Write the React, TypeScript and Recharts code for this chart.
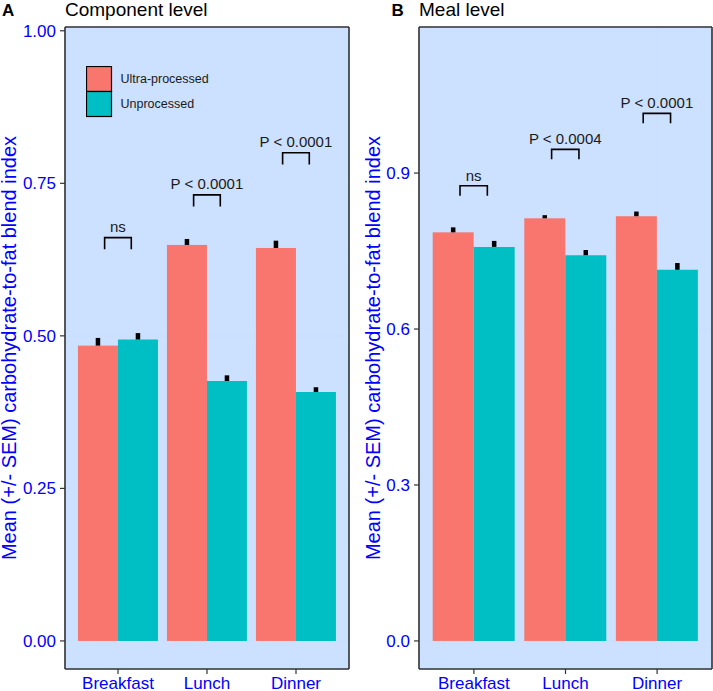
import React from 'react';
import { BarChart, Bar, XAxis, YAxis, CartesianGrid, ErrorBar, Legend } from 'recharts';

// ---------- data ----------
const meals = ['Breakfast', 'Lunch', 'Dinner'];

const componentUltra = [0.484, 0.649, 0.644];
const componentUnproc = [0.494, 0.426, 0.408];
const componentUltraSem = [0.0126, 0.0098, 0.012];
const componentUnprocSem = [0.0105, 0.0093, 0.0078];
const componentBracketTop = [0.661, 0.731, 0.8];
const componentP = ['ns', 'P < 0.0001', 'P < 0.0001'];
const componentTicks = [0, 0.25, 0.5, 0.75, 1.0];

const mealUltra = [0.786, 0.813, 0.817];
const mealUnproc = [0.758, 0.742, 0.714];
const mealUltraSem = [0.0096, 0.006, 0.009];
const mealUnprocSem = [0.0115, 0.01, 0.013];
const mealBracketTop = [0.8756, 0.9455, 1.0148];
const mealP = ['ns', 'P < 0.0004', 'P < 0.0001'];
const mealTicks = [0, 0.3, 0.6, 0.9];

const seriesNames = ['Ultra-processed', 'Unprocessed'];
const yTitle = 'Mean (+/- SEM) carbohydrate-to-fat blend index';
const bracketLeg = 0.019;
const bracketTextGap = 0.01;

// ---------- style ----------
const FONT = '"Liberation Sans", Arial, Helvetica, sans-serif';
const ULTRA = '#F8766D';
const UNPROC = '#00BFC4';
const PANEL_BG = '#CCE0FF';
const BLUE = '#0000FF';
const BORDER = '#333333';

function buildRows(ultra: number[], unproc: number[], ultraSem: number[], unprocSem: number[], bracketTop: number[], pLabels: string[]) {
  return meals.map((meal, i) => ({
    meal,
    ultra: ultra[i],
    unproc: unproc[i],
    ultraErr: [0, ultraSem[i]],
    unprocErr: [0, unprocSem[i]],
    bracketTop: bracketTop[i],
    pLabel: pLabels[i],
  }));
}

const componentRows = buildRows(componentUltra, componentUnproc, componentUltraSem, componentUnprocSem, componentBracketTop, componentP);
const mealRows = buildRows(mealUltra, mealUnproc, mealUltraSem, mealUnprocSem, mealBracketTop, mealP);

// Ultra bar shape: draws the bar and the significance bracket above the meal group
const UltraShape = (props: any) => {
  const { x, y, width, height, payload, fill } = props;
  const val = payload.ultra;
  const base = y + height;
  const ppu = height / val;
  const cx = x + width;
  const half = width / 3;
  const yTop = base - payload.bracketTop * ppu;
  const yLeg = base - (payload.bracketTop - bracketLeg) * ppu;
  const yText = base - (payload.bracketTop + bracketTextGap) * ppu;
  return (
    <g>
      <rect x={x} y={y} width={width} height={height} fill={fill} />
      <path
        d={`M${cx - half},${yLeg}V${yTop}H${cx + half}V${yLeg}`}
        fill="none"
        stroke="#000"
        strokeWidth={1.6}
      />
      <text x={cx} y={yText} textAnchor="middle" fontSize={15} fill="#1a1a1a" fontFamily={FONT}>
        {payload.pLabel}
      </text>
    </g>
  );
};

const renderLegend = (props: any) => {
  const payload = props.payload || [];
  return (
    <svg width={140} height={54} style={{ display: 'block' }}>
      {payload.map((entry: any, i: number) => (
        <g key={i}>
          <rect x={0.5} y={0.5 + i * 25} width={25} height={25} fill={entry.color} stroke="#000" strokeWidth={1.2} />
          <text x={34.5} y={13 + i * 25} dominantBaseline="central" fontSize={12.5} fill="#1a1a1a" fontFamily={FONT}>
            {entry.value}
          </text>
        </g>
      ))}
    </svg>
  );
};

const yTitleRenderer = (baselineOffset: number) => (props: any) => {
  const vb = props.viewBox || {};
  const tx = vb.x + baselineOffset;
  const ty = vb.y + vb.height / 2;
  return (
    <text
      x={tx}
      y={ty}
      transform={`rotate(-90, ${tx}, ${ty})`}
      textAnchor="middle"
      fontSize={20}
      fill={BLUE}
      fontFamily={FONT}
    >
      {yTitle}
    </text>
  );
};

type PanelProps = {
  rows: any[];
  width: number;
  yAxisWidth: number;
  marginRight: number;
  domain: [number, number];
  ticks: number[];
  decimals: number;
  pad: number;
  titleOffset: number;
  showLegend: boolean;
};

function Panel({ rows, width, yAxisWidth, marginRight, domain, ticks, decimals, pad, titleOffset, showLegend }: PanelProps) {
  const axisLine = { stroke: BORDER, strokeWidth: 1.6 };
  return (
    <BarChart
      width={width}
      height={691}
      data={rows}
      margin={{ top: 26, right: marginRight, bottom: 0, left: 0 }}
      barCategoryGap="5%"
      barGap={0}
      style={{ overflow: 'visible' }}
    >
      <CartesianGrid fill={PANEL_BG} stroke={PANEL_BG} />
      <XAxis
        dataKey="meal"
        height={22}
        padding={{ left: pad, right: pad }}
        axisLine={axisLine}
        tickLine={{ stroke: BORDER, strokeWidth: 1.2 }}
        tickSize={5}
        tickMargin={3}
        tick={{ fill: BLUE, fontSize: 17, fontFamily: FONT }}
        interval={0}
      />
      <XAxis
        xAxisId="top"
        dataKey="meal"
        orientation="top"
        height={1}
        axisLine={axisLine}
        tick={false}
        tickLine={false}
      />
      <YAxis
        width={yAxisWidth}
        domain={domain}
        ticks={ticks}
        allowDataOverflow
        type="number"
        axisLine={axisLine}
        tickLine={{ stroke: BORDER, strokeWidth: 1.2 }}
        tickSize={5}
        tickMargin={4}
        tick={{ fill: BLUE, fontSize: 17, fontFamily: FONT }}
        tickFormatter={(v: number) => v.toFixed(decimals)}
        interval={0}
        label={yTitleRenderer(titleOffset)}
      />
      <YAxis
        yAxisId="right"
        orientation="right"
        width={1}
        type="number"
        domain={[0, 1]}
        axisLine={axisLine}
        tick={false}
        tickLine={false}
      />
      {showLegend && (
        <Legend
          layout="vertical"
          align="center"
          verticalAlign="middle"
          content={renderLegend}
          wrapperStyle={{ left: 85.5, top: 65.5, width: 140, height: 54 }}
        />
      )}
      <Bar dataKey="ultra" name={seriesNames[0]} fill={ULTRA} isAnimationActive={false} shape={UltraShape}>
        <ErrorBar dataKey="ultraErr" width={0} strokeWidth={4.5} stroke="#000" direction="y" />
      </Bar>
      <Bar dataKey="unproc" name={seriesNames[1]} fill={UNPROC} isAnimationActive={false}>
        <ErrorBar dataKey="unprocErr" width={0} strokeWidth={4.5} stroke="#000" direction="y" />
      </Bar>
    </BarChart>
  );
}

export default function App() {
  return (
    <div style={{ position: 'absolute', left: 0, top: 0, width: 713, height: 691, background: '#fff', fontFamily: FONT, overflow: 'hidden' }}>
      <div style={{ position: 'absolute', left: 0, top: 0 }}>
        <Panel
          rows={componentRows}
          width={356}
          yAxisWidth={65}
          marginRight={6}
          domain={[-0.046, 1.0062]}
          ticks={componentTicks}
          decimals={2}
          pad={8.5}
          titleOffset={15.7}
          showLegend={true}
        />
      </div>
      <div style={{ position: 'absolute', left: 356, top: 0 }}>
        <Panel
          rows={mealRows}
          width={357}
          yAxisWidth={63}
          marginRight={0}
          domain={[-0.054, 1.181]}
          ticks={mealTicks}
          decimals={1}
          pad={9.1}
          titleOffset={23.5}
          showLegend={false}
        />
      </div>
      <svg width={713} height={40} style={{ position: 'absolute', left: 0, top: 0, pointerEvents: 'none' }}>
        <text x={2} y={15.5} fontSize={17} fontWeight="bold" fill="#000" fontFamily={FONT}>A</text>
        <text x={65} y={16} fontSize={19} fill="#000" fontFamily={FONT}>Component level</text>
        <text x={391.5} y={15.5} fontSize={17} fontWeight="bold" fill="#000" fontFamily={FONT}>B</text>
        <text x={419} y={16} fontSize={19} fill="#000" fontFamily={FONT}>Meal level</text>
      </svg>
    </div>
  );
}
